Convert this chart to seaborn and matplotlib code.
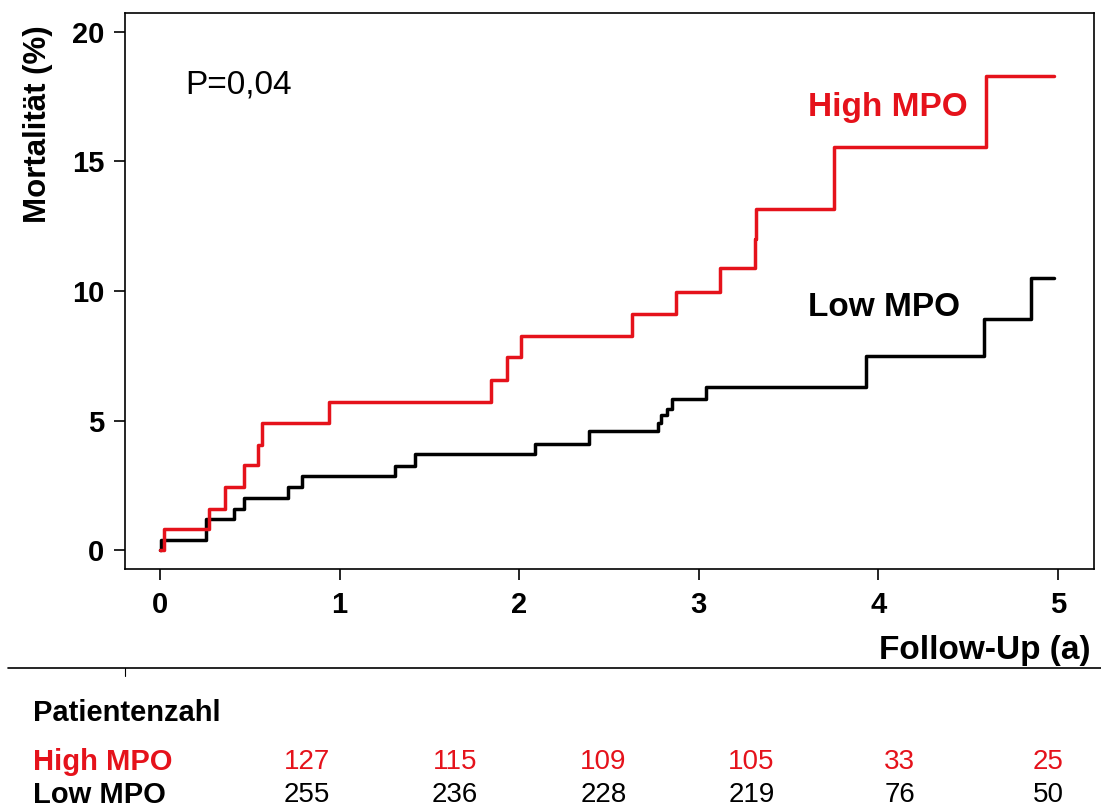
"""Kaplan-Meier style mortality curves, High vs Low MPO"""

import pandas as pd
import matplotlib
matplotlib.use('Agg')
import matplotlib.pyplot as plt
from matplotlib.lines import Line2D
import seaborn as sns

RED = '#e5121b'

# step curves (follow-up in years, mortality in %)
high_t = [0, 0.02, 0.27, 0.36, 0.47, 0.545, 0.565, 0.94, 1.84, 1.93, 2.01, 2.63, 2.87,
          3.12, 3.31, 3.32, 3.75, 4.6, 4.98]
high_v = [0, 0.8, 1.6, 2.45, 3.3, 4.05, 4.9, 5.7, 6.55, 7.45, 8.25, 9.1, 9.95,
          10.9, 12.0, 13.15, 15.55, 18.3, 18.3]

low_t = [0, 0.005, 0.255, 0.41, 0.47, 0.71, 0.79, 1.31, 1.42, 2.09, 2.39, 2.77, 2.79,
         2.82, 2.85, 3.04, 3.93, 4.59, 4.85, 4.98]
low_v = [0, 0.4, 1.2, 1.6, 2.0, 2.45, 2.85, 3.25, 3.7, 4.1, 4.6, 4.9, 5.2,
         5.45, 5.85, 6.3, 7.5, 8.9, 10.5, 10.5]

# numbers at risk
high_counts = [127, 115, 109, 105, 33, 25]
low_counts = [255, 236, 228, 219, 76, 50]

x_ticks = [0, 1, 2, 3, 4, 5]
y_ticks = [0, 5, 10, 15, 20]

df = pd.concat([
    pd.DataFrame({'t': high_t, 'v': high_v, 'group': 'High MPO'}),
    pd.DataFrame({'t': low_t, 'v': low_v, 'group': 'Low MPO'}),
])

sns.set_style('ticks')
plt.rcParams['font.family'] = ['Liberation Sans', 'DejaVu Sans']
plt.rcParams['text.color'] = 'black'
plt.rcParams['axes.labelcolor'] = 'black'
plt.rcParams['xtick.color'] = 'black'
plt.rcParams['ytick.color'] = 'black'

W, H = 1101, 809
fig = plt.figure(figsize=(W / 100, H / 100), dpi=100)
ax = fig.add_axes([125 / W, 1 - 569 / H, (1094 - 125) / W, (569 - 13) / H])

sns.lineplot(data=df, x='t', y='v', hue='group', hue_order=['Low MPO', 'High MPO'],
             palette={'High MPO': RED, 'Low MPO': 'black'}, estimator=None,
             drawstyle='steps-post', linewidth=2.5, legend=False, ax=ax)

ax.set_xlim(-0.195, 5.2)
ax.set_ylim(-0.73, 20.73)
ax.set_xticks(x_ticks)
ax.set_yticks(y_ticks)
ax.tick_params(axis='both', length=8, width=1.2, labelsize=21, colors='black')
ax.tick_params(axis='x', pad=8)
ax.tick_params(axis='y', pad=7)
for lab in ax.get_xticklabels() + ax.get_yticklabels():
    lab.set_fontweight('bold')
for sp in ax.spines.values():
    sp.set_visible(True)
    sp.set_linewidth(1.2)
    sp.set_color('black')

ax.set_ylabel('Mortalität (%)', fontsize=22.5, fontweight='bold', va='center')
ax.yaxis.set_label_coords(-0.09, 0.80)
ax.set_xlabel('Follow-Up (a)', fontsize=24, fontweight='bold', ha='right', va='center')
ax.xaxis.set_label_coords(0.996, -0.146)

ax.text(0.14, 17.95, 'P=0,04', fontsize=24, va='center', ha='left')
ax.text(3.61, 17.1, 'High MPO', fontsize=24, fontweight='bold', color=RED, va='center')
ax.text(3.61, 9.38, 'Low MPO', fontsize=24, fontweight='bold', color='black', va='center')

# separator under the plot
fig.add_artist(Line2D([8 / W, 1], [1 - 668 / H] * 2, color='black', lw=1.2))
fig.add_artist(Line2D([125 / W] * 2, [1 - 668 / H, 1 - 676 / H], color='black', lw=0.8))

# number-at-risk table
fig.text(33 / W, 1 - 713 / H, 'Patientenzahl', fontsize=21, fontweight='bold', va='center')
fig.text(33 / W, 1 - 762 / H, 'High MPO', fontsize=21, fontweight='bold', color=RED, va='center')
fig.text(33 / W, 1 - 795 / H, 'Low MPO', fontsize=21, fontweight='bold', color='black', va='center')
for i, (hc, lc) in enumerate(zip(high_counts, low_counts)):
    xc = (307 + 148.2 * i) / W
    fig.text(xc, 1 - 762 / H, str(hc), fontsize=20, color=RED, ha='center', va='center')
    fig.text(xc, 1 - 795 / H, str(lc), fontsize=20, color='black', ha='center', va='center')

fig.savefig('out.png', dpi=100, facecolor='white')
